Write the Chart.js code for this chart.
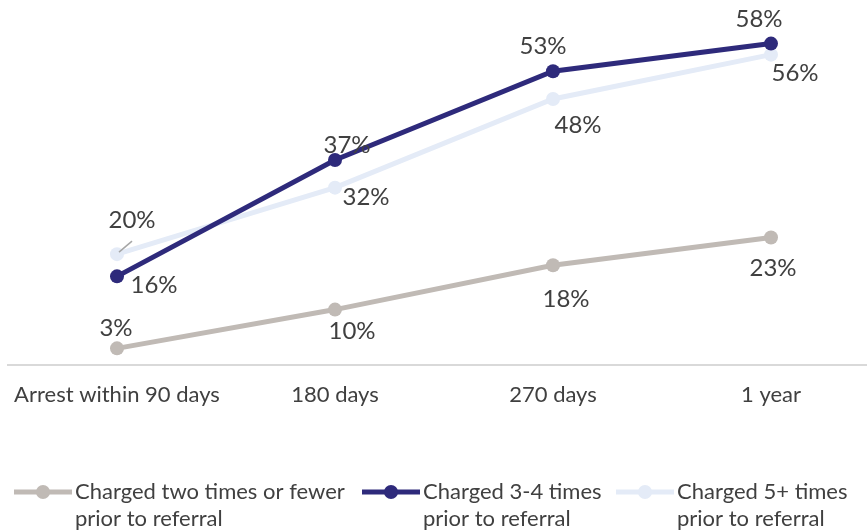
<!DOCTYPE html>
<html>
<head>
<meta charset="utf-8">
<script src="https://cdn.jsdelivr.net/npm/chart.js@4"></script>
<style>
  html, body { margin: 0; padding: 0; background: #ffffff; overflow: hidden; }
  #wrap { width: 867px; height: 531px; position: relative; overflow: hidden; }
</style>
</head>
<body>
<div id="wrap"><canvas id="chart" width="887" height="531"></canvas></div>
<script>
// Categories and series (percent of youth arrested)
const categories = ['Arrest within 90 days', '180 days', '270 days', '1 year'];
const seriesNames = [
  ['Charged two times or fewer', 'prior to referral'],
  ['Charged 3-4 times', 'prior to referral'],
  ['Charged 5+ times', 'prior to referral']
];
const twoOrFewer = [3, 10, 18, 23];
const threeToFour = [16, 37, 53, 58];
const fivePlus = [20, 32, 48, 56];

// Styling
const colors = ['#C0BAB5', '#2E2A7B', '#E4EBF7'];
const FONT = 'Lato, "Open Sans", sans-serif';
const textColor = '#404040';

// Label offsets from each point (dx, dy), per series
const labelOffsets = [
  [[-1, -20], [17, 22], [13, 34], [2, 31]],
  [[37, 9], [12, -15], [-10, -25], [-12, -24]],
  [[15, -34], [31, 10], [25, 26], [24, 19]]
];

const pointLabels = {
  id: 'pointLabels',
  afterDatasetsDraw(chart) {
    const ctx = chart.ctx;
    ctx.save();
    ctx.font = '24px ' + FONT;
    ctx.fillStyle = textColor;
    ctx.textAlign = 'center';
    ctx.textBaseline = 'middle';
    chart.data.datasets.forEach((ds, di) => {
      const meta = chart.getDatasetMeta(di);
      meta.data.forEach((pt, i) => {
        const off = labelOffsets[di][i];
        ctx.fillText(ds.data[i] + '%', pt.x + off[0], pt.y + off[1]);
      });
    });
    // leader line for the first 5+ label
    const p = chart.getDatasetMeta(2).data[0];
    ctx.strokeStyle = '#A6A6A6';
    ctx.lineWidth = 1.5;
    ctx.beginPath();
    ctx.moveTo(p.x + 2, p.y - 2);
    ctx.lineTo(p.x + 15, p.y - 13);
    ctx.stroke();
    ctx.restore();
  }
};

const bottomLegend = {
  id: 'bottomLegend',
  afterDraw(chart) {
    const ctx = chart.ctx;
    const starts = [14, 362, 616];
    const y = 492;
    ctx.save();
    chart.data.datasets.forEach((ds, di) => {
      const x = starts[di];
      ctx.strokeStyle = ds.borderColor;
      ctx.lineWidth = 5;
      ctx.beginPath();
      ctx.moveTo(x, y);
      ctx.lineTo(x + 58, y);
      ctx.stroke();
      ctx.fillStyle = ds.borderColor;
      ctx.beginPath();
      ctx.arc(x + 29, y, 7, 0, Math.PI * 2);
      ctx.fill();
      ctx.fillStyle = textColor;
      ctx.font = '22px ' + FONT;
      ctx.textAlign = 'left';
      ctx.textBaseline = 'middle';
      seriesNames[di].forEach((line, li) => {
        ctx.fillText(line, x + 61, y + li * 27);
      });
    });
    ctx.restore();
  }
};

function makeSet(name, data, color) {
  return {
    label: name.join(' '),
    data: data,
    borderColor: color,
    backgroundColor: color,
    borderWidth: 5,
    pointRadius: 7,
    pointHoverRadius: 7,
    pointBackgroundColor: color,
    pointBorderColor: color,
    pointBorderWidth: 0,
    tension: 0,
    clip: false
  };
}

new Chart(document.getElementById('chart'), {
  type: 'line',
  data: {
    labels: categories,
    datasets: [
      makeSet(seriesNames[0], twoOrFewer, colors[0]),
      makeSet(seriesNames[1], threeToFour, colors[1]),
      makeSet(seriesNames[2], fivePlus, colors[2])
    ]
  },
  options: {
    responsive: false,
    animation: false,
    layout: { padding: { left: 8, right: 0, top: 0, bottom: 0 } },
    plugins: {
      legend: { display: false },
      tooltip: { enabled: false }
    },
    scales: {
      x: {
        offset: true,
        grid: { display: false, drawTicks: false, tickLength: 0 },
        border: { display: true, color: '#D9D9D9', width: 2 },
        ticks: {
          color: textColor,
          font: { family: FONT, size: 22 },
          padding: 17,
          maxRotation: 0
        },
        afterFit(scale) {
          scale.height = 166;
          scale.paddingLeft = 0;
          scale.paddingRight = 0;
        }
      },
      y: {
        display: false,
        min: 0,
        max: 64.6
      }
    }
  },
  plugins: [pointLabels, bottomLegend]
});
</script>
</body>
</html>
